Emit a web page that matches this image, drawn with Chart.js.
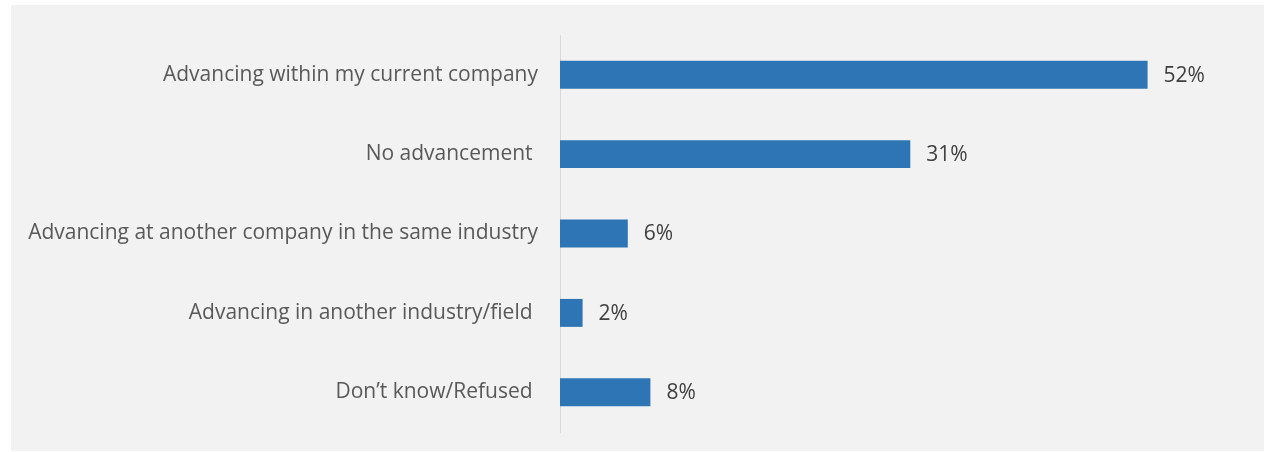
<!DOCTYPE html>
<html>
<head>
<meta charset="utf-8">
<script src="https://cdn.jsdelivr.net/npm/chart.js@4"></script>
<style>
  html, body { margin: 0; padding: 0; background: #ffffff; }
  #panel { position: absolute; left: 11px; top: 5px; width: 1253px; height: 446px; background: #f2f2f2; }
</style>
</head>
<body>
<div id="panel"><canvas id="chart" width="1253" height="446"></canvas></div>
<script>
// categories and values (percent)
const categories = [
    'Advancing within my current company',
    'No advancement ',
    'Advancing at another company in the same industry',
    'Advancing in another industry/field ',
    'Don\u2019t know/Refused '
];
const values = [52, 31, 6, 2, 8];

const FONT = '"Open Sans", Lato, sans-serif';

// simple value labels at the end of each bar
const valueLabels = {
    id: 'valueLabels',
    afterDatasetsDraw(chart) {
        const ctx = chart.ctx;
        const meta = chart.getDatasetMeta(0);
        ctx.save();
        ctx.font = '21px ' + FONT;
        ctx.fillStyle = '#404040';
        ctx.textBaseline = 'middle';
        meta.data.forEach((bar, i) => {
            ctx.fillText(values[i] + '%', bar.x + 16, bar.y + 1);
        });
        ctx.restore();
    }
};

new Chart(document.getElementById('chart').getContext('2d'), {
    type: 'bar',
    data: {
        labels: categories,
        datasets: [{
            data: values,
            backgroundColor: '#2e75b6',
            borderWidth: 0,
            categoryPercentage: 1,
            barPercentage: 0.352
        }]
    },
    options: {
        indexAxis: 'y',
        responsive: false,
        animation: false,
        layout: { padding: { top: 30, bottom: 19, right: 26, left: 0 } },
        plugins: { legend: { display: false }, tooltip: { enabled: false } },
        scales: {
            x: {
                display: false,
                min: 0,
                max: 60
            },
            y: {
                afterFit(scale) { scale.width = 549; },
                // tick marks are not drawn, their length only sets the label gap
                grid: { display: false, drawTicks: true, tickLength: 22 },
                border: { display: true, color: '#d9d9d9', width: 1 },
                ticks: {
                    padding: 0,
                    color: '#595959',
                    font: { family: FONT, size: 21 }
                }
            }
        }
    },
    plugins: [valueLabels]
});
</script>
</body>
</html>
